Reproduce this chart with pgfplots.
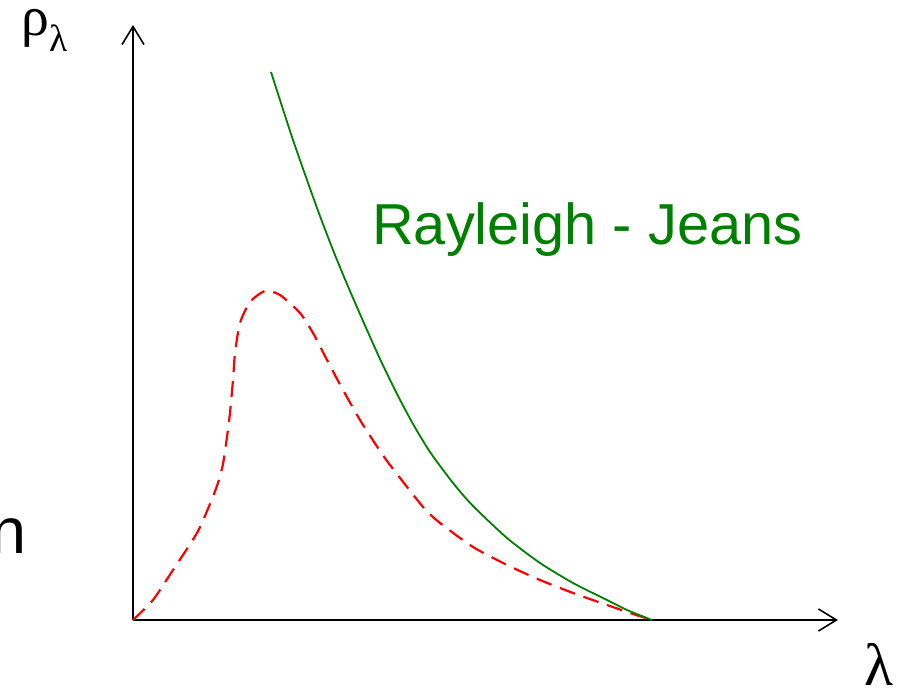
\documentclass[border=0pt]{standalone}
\usepackage{pgfplots}
\pgfplotsset{compat=1.18}
\usepackage{fontspec}
\setmainfont{Liberation Sans}
\newfontfamily\greekfont{Liberation Serif}
\usetikzlibrary{arrows.meta}

\definecolor{rjgreen}{RGB}{0,128,0}
\definecolor{planckred}{RGB}{255,0,0}

\begin{document}
\begin{tikzpicture}
\begin{axis}[
  x=1bp, y=1bp,
  xmin=0, xmax=705,
  ymin=0, ymax=595,
  axis lines=left,
  axis line style={line width=2bp, -{Straight Barb[length=18bp,width=22bp,line width=1.6bp]}},
  xtick=\empty, ytick=\empty,
  clip=false,
]
% Planck spectrum (dashed)
\addplot[planckred, line width=2.2bp, dash pattern=on 16bp off 9bp, smooth, tension=0.4] coordinates {
  (0,0) (20,20) (40,50) (64,87) (77,116) (85,137) (90,156) (94,183) (97,207)
  (100,240) (102,267) (107,297) (117,318) (132,329) (147,325) (167,307)
  (180,287) (194,260) (210,230) (227,200) (245,172) (257,155) (290,113)
  (307,97) (340,73) (374,55) (407,40) (440,27) (474,15) (500,6) (519,0)
};
% Rayleigh-Jeans law (solid)
\addplot[rjgreen, line width=1.8bp, smooth, tension=0.4] coordinates {
  (138,548) (160,480) (184,412) (200,370) (214,336) (230,299) (247,261)
  (264,226) (280,196) (297,168) (320,137) (340,114) (374,82) (407,57)
  (440,37) (474,20) (494,10) (519,0)
};
\node[anchor=base west, inner sep=0, text=rjgreen, font=\fontsize{58}{58}\selectfont]
  at (axis cs:239,375) {Rayleigh - Jeans};
\node[anchor=base west, inner sep=0, font=\greekfont\fontsize{56}{56}\selectfont]
  at (axis cs:-112,584) {ρ\raisebox{-16bp}{\fontsize{38}{38}\selectfont λ}};
\node[anchor=base west, inner sep=0, font=\greekfont\fontsize{60}{60}\selectfont]
  at (axis cs:731,-66) {λ};
\node[anchor=base east, inner sep=0, font=\fontsize{65}{65}\selectfont]
  at (axis cs:-106.5,66) {n};
\coordinate (pageLL) at (axis cs:-133,-69);
\coordinate (pageUR) at (axis cs:767,620);
\end{axis}
\pgfresetboundingbox
\path[use as bounding box] (pageLL) rectangle (pageUR);
\end{tikzpicture}
\end{document}
